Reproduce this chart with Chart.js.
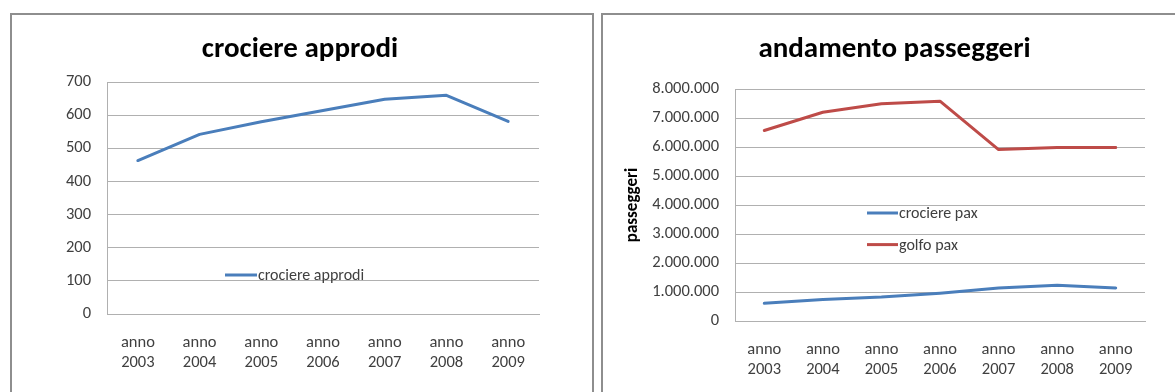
<!DOCTYPE html>
<html><head><meta charset="utf-8">
<script src="https://cdn.jsdelivr.net/npm/chart.js@4.4.1/dist/chart.umd.min.js"></script>
<style>
html,body{margin:0;padding:0;background:#fff;overflow:hidden;width:1175px;height:392px;position:relative;}
.box{position:absolute;border:2px solid #8e8e8e;box-sizing:border-box;}
#b1{left:10px;top:13px;width:584px;height:420px;}
#b2{left:601px;top:13px;width:620px;height:420px;}
canvas{position:absolute;top:0;}
#c1{left:0;}
#c2{left:600px;}
</style></head><body>
<div class="box" id="b1"></div><div class="box" id="b2"></div>
<canvas id="c1" width="600" height="392"></canvas>
<canvas id="c2" width="600" height="392"></canvas>
<script>
// ---- data ----
const years = ['2003','2004','2005','2006','2007','2008','2009'];
const categoryLabels = years.map(y => ['anno', y]);
const crociereApprodi = [463, 542, 580, 614, 648, 660, 581];
const crocierePax = [610000, 745000, 825000, 960000, 1135000, 1230000, 1140000];
const golfoPax = [6570000, 7200000, 7490000, 7580000, 5910000, 5980000, 5985000];
const approdiAxis = [0, 700, 100];      // min, max, step
const paxAxis = [0, 8000000, 1000000];  // min, max, step

// ---- styles ----
const FONT = "Carlito, Calibri, Lato, 'Open Sans', sans-serif";
const GRID = '#b0b0b0';
const TXT = '#404040';
const BLUE = '#4a7ebb';
const RED = '#be4b48';

function itFormat(v){ return String(v).replace(/\B(?=(\d{3})+(?!\d))/g, '.'); }

const inlineLegend = {
  id: 'inlineLegend',
  afterDatasetsDraw(chart, args, o) {
    const ctx = chart.ctx;
    ctx.save();
    chart.data.datasets.forEach((ds, i) => {
      const y = o.y + i * o.gap;
      ctx.strokeStyle = ds.borderColor;
      ctx.lineWidth = ds.borderWidth;
      ctx.beginPath(); ctx.moveTo(o.x, y); ctx.lineTo(o.x + o.len, y); ctx.stroke();
      ctx.fillStyle = TXT;
      ctx.font = '16px ' + FONT;
      ctx.textBaseline = 'middle'; ctx.textAlign = 'left';
      ctx.fillText(ds.label, o.x + o.len + 1, y + 1);
    });
    ctx.restore();
  }
};

function makeChart(id, cfg) {
  return new Chart(document.getElementById(id), {
    type: 'line',
    data: { labels: categoryLabels, datasets: cfg.datasets.map(d => ({
      label: d.label, data: d.data, borderColor: d.color, backgroundColor: d.color,
      borderWidth: 3, pointRadius: 0, pointHoverRadius: 0, tension: 0, fill: false,
      borderCapStyle: 'round', borderJoinStyle: 'round'
    })) },
    options: {
      responsive: false, animation: false, devicePixelRatio: 1,
      layout: { padding: { left: cfg.padL, right: cfg.padR, top: 32.6, bottom: 0 } },
      plugins: {
        legend: { display: false },
        tooltip: { enabled: false },
        title: { display: true, text: cfg.title, color: '#000',
          font: { family: FONT, size: 29, weight: 'bold', lineHeight: 1.2 },
          padding: { top: 0, bottom: cfg.titleBottom } },
        inlineLegend: cfg.legend
      },
      scales: {
        x: {
          offset: true,
          grid: { display: false, drawTicks: false, offset: true },
          border: { display: true, color: GRID, width: 1 },
          ticks: { color: TXT, font: { family: FONT, size: 16.5, lineHeight: 1.21 }, padding: 19, maxRotation: 0, autoSkip: false },
          afterFit(s) { s.height = 392 - cfg.bottom; }
        },
        y: {
          min: cfg.axis[0], max: cfg.axis[1],
          grid: { color: GRID, drawTicks: false, lineWidth: 1 },
          border: { display: true, color: GRID, width: 1 },
          ticks: { stepSize: cfg.axis[2], color: TXT, padding: 16,
            font: { family: FONT, size: 16.5 }, callback: v => itFormat(v) },
          title: cfg.yTitle ? { display: true, text: cfg.yTitle, color: '#000',
            font: { family: FONT, size: 17, weight: 'bold', lineHeight: 1.2 },
            padding: { top: cfg.yTitlePad, bottom: 0 } } : { display: false },
          afterFit(s) { s.width = cfg.yWidth; }
        }
      }
    },
    plugins: [inlineLegend]
  });
}

makeChart('c1', {
  title: 'crociere approdi',
  datasets: [{ label: 'crociere approdi', data: crociereApprodi, color: BLUE }],
  axis: approdiAxis, padL: 61, padR: 61, yWidth: 46, titleBottom: 14.6, bottom: 314,
  legend: { x: 225, y: 275, len: 32, gap: 32 }
});

makeChart('c2', {
  title: 'andamento passeggeri',
  datasets: [
    { label: 'crociere pax', data: crocierePax, color: BLUE },
    { label: 'golfo pax', data: golfoPax, color: RED }
  ],
  axis: paxAxis, padL: 44, padR: 55, yWidth: 91, titleBottom: 21.6, bottom: 321,
  yTitle: 'passeggeri', yTitlePad: -21.2,
  legend: { x: 267, y: 213, len: 31, gap: 31.6 }
});
</script>
</body></html>
